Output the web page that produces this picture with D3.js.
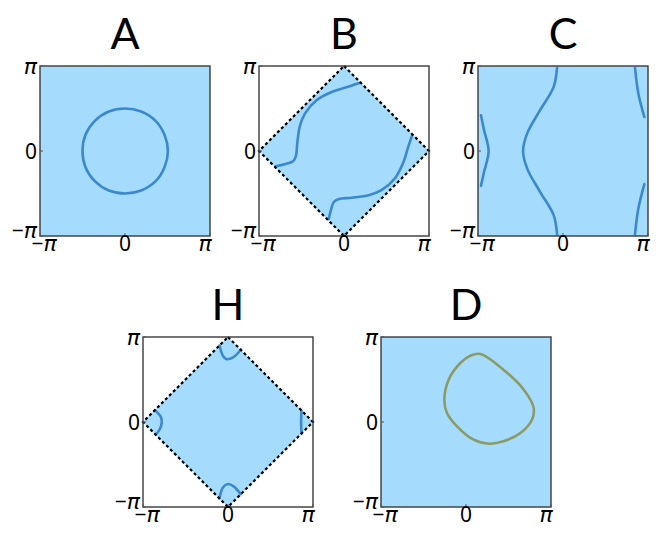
<!doctype HTML>
<html>
<head>
    <script src="https://d3js.org/d3.v7.min.js"></script>
    <style>
        body { margin: 0; background: #ffffff; }
    </style>
</head>
<body>
<script>

    // all coordinates are in units of pi, both axes run from -pi to pi
    var tickValues = [-1, 0, 1];
    var tickLabels = ["\u2212\u03c0", "0", "\u03c0"];

    var titles = ["A", "B", "C", "H", "D"];

    // first Brillouin zone outline used in B and H
    var diamond = [[0, 1], [1, 0], [0, -1], [-1, 0]];

    var curveA = [
        [0.505, 0], [0.465, 0.19], [0.36, 0.355], [0.19, 0.465], [0, 0.50],
        [-0.19, 0.465], [-0.355, 0.355], [-0.465, 0.19], [-0.50, 0], [-0.465, -0.19],
        [-0.355, -0.355], [-0.19, -0.465], [0, -0.50], [0.19, -0.465], [0.36, -0.355], [0.465, -0.19]
    ];

    var curvesB = [
        [[-0.80, -0.18], [-0.68, -0.15], [-0.60, -0.12], [-0.566, -0.06], [-0.55, 0.09],
         [-0.52, 0.29], [-0.46, 0.44], [-0.32, 0.60], [-0.13, 0.70], [0.03, 0.75], [0.18, 0.80]],
        [[0.80, 0.18], [0.75, 0.03], [0.70, -0.13], [0.60, -0.32], [0.44, -0.46],
         [0.29, -0.52], [0.09, -0.55], [-0.06, -0.566], [-0.12, -0.60], [-0.15, -0.68], [-0.18, -0.80]]
    ];

    var curvesC = [
        [[-0.965, 0.42], [-0.93, 0.25], [-0.875, 0], [-0.93, -0.25], [-0.965, -0.41]],
        [[-0.07, 0.98], [-0.11, 0.755], [-0.27, 0.48], [-0.42, 0.21], [-0.47, 0],
         [-0.42, -0.21], [-0.27, -0.48], [-0.11, -0.755], [-0.07, -0.98]],
        [[0.847, 0.98], [0.886, 0.68], [0.957, 0.40]],
        [[0.957, -0.39], [0.886, -0.68], [0.847, -0.98]]
    ];

    var curvesH = [
        [[-0.10, 0.90], [-0.06, 0.78], [-0.02, 0.74], [0.06, 0.76], [0.15, 0.85]],
        [[-0.10, -0.90], [-0.06, -0.77], [0.0, -0.73], [0.07, -0.76], [0.15, -0.85]],
        [[-0.86, 0.14], [-0.79, 0.06], [-0.78, -0.01], [-0.80, -0.08], [-0.85, -0.15]],
        [[0.865, 0.135], [0.86, 0], [0.865, -0.135]]
    ];

    var curveD = [
        [0.17, 0.80], [0.44, 0.616], [0.68, 0.38], [0.796, 0.165], [0.776, 0.027],
        [0.64, -0.13], [0.44, -0.227], [0.27, -0.255], [0.09, -0.208], [-0.106, -0.051],
        [-0.224, 0.106], [-0.255, 0.263], [-0.204, 0.498], [-0.067, 0.694], [0.05, 0.78]
    ];

    var fillColor = "#a5dcfd";
    var lineBlue = "#3b88d0";
    var lineOlive = "#8c9b66";

    // panel layout
    var size = 170;
    var panels = [
        {title: titles[0], left: 40, top: 66, zone: "square", curves: [curveA], closed: true, color: lineBlue},
        {title: titles[1], left: 259, top: 66, zone: "diamond", curves: curvesB, closed: false, color: lineBlue},
        {title: titles[2], left: 478, top: 66, zone: "square", curves: curvesC, closed: false, color: lineBlue},
        {title: titles[3], left: 143, top: 337, zone: "diamond", curves: curvesH, closed: false, color: lineBlue},
        {title: titles[4], left: 381, top: 337, zone: "square", curves: [curveD], closed: true, color: lineOlive}
    ];

    var svg = d3.select("body")
        .append("svg")
        .attr("width", 664)
        .attr("height", 540);

    var x = d3.scaleLinear().domain([-1, 1]).range([0, size]);
    var y = d3.scaleLinear().domain([-1, 1]).range([size, 0]);

    var zoneLine = d3.line()
        .x(function (d) {return x(d[0]);})
        .y(function (d) {return y(d[1]);})
        .curve(d3.curveLinearClosed);

    // write a tick label, with the pi glyph a bit larger like the original
    function fillLabel(sel, label) {
        label.split("").forEach(function (ch) {
            var t = sel.append("tspan").text(ch);
            if (ch === "\u03c0") {
                t.attr("font-family", "'DejaVu Sans', sans-serif")
                    .attr("font-style", "italic")
                    .attr("font-size", "22px");
            }
        });
    }

    panels.forEach(function (p) {
        var g = svg.append("g")
            .attr("transform", "translate(" + p.left + "," + p.top + ")");

        // title
        g.append("text")
            .attr("x", size / 2)
            .attr("y", -17)
            .attr("text-anchor", "middle")
            .attr("font-family", "Lato, 'Open Sans', sans-serif")
            .attr("font-size", "43px")
            .attr("fill", "black")
            .text(p.title);

        // filled zone
        if (p.zone === "square") {
            g.append("rect")
                .attr("x", x(-1))
                .attr("y", y(1))
                .attr("width", x(1) - x(-1))
                .attr("height", y(-1) - y(1))
                .attr("fill", fillColor);
        } else {
            g.append("path")
                .datum(diamond)
                .attr("d", zoneLine)
                .attr("fill", fillColor);
        }

        // contour lines
        var line = d3.line()
            .x(function (d) {return x(d[0]);})
            .y(function (d) {return y(d[1]);})
            .curve(p.closed ? d3.curveCatmullRomClosed : d3.curveCatmullRom);

        g.selectAll(".contour")
            .data(p.curves)
            .enter()
            .append("path")
            .attr("class", "contour")
            .attr("d", line)
            .attr("fill", "none")
            .attr("stroke", p.color)
            .attr("stroke-width", 2.6)
            .attr("stroke-linecap", "round");

        // dashed zone boundary
        if (p.zone === "diamond") {
            g.append("path")
                .datum(diamond)
                .attr("d", zoneLine)
                .attr("fill", "none")
                .attr("stroke", "black")
                .attr("stroke-width", 2.2)
                .attr("stroke-dasharray", "3,2.6");
        }

        // frame
        g.append("rect")
            .attr("x", 0)
            .attr("y", 0)
            .attr("width", size)
            .attr("height", size)
            .attr("fill", "none")
            .attr("stroke", "#3a3a3a")
            .attr("stroke-width", 1.4);

        // small inward ticks
        tickValues.forEach(function (t) {
            g.append("line")
                .attr("x1", x(t)).attr("x2", x(t))
                .attr("y1", size).attr("y2", size - 3)
                .attr("stroke", "#555").attr("stroke-width", 1);
            g.append("line")
                .attr("x1", 0).attr("x2", 3)
                .attr("y1", y(t)).attr("y2", y(t))
                .attr("stroke", "#555").attr("stroke-width", 1);
        });

        // x tick labels
        g.selectAll(".xlab")
            .data(tickValues)
            .enter()
            .append("text")
            .attr("class", "xlab")
            .attr("x", function (d) {return Math.min(Math.max(x(d), 4), size - 5);})
            .attr("y", size + 15)
            .attr("text-anchor", "middle")
            .attr("font-family", "'Noto Sans', sans-serif")
            .attr("font-size", "21px")
            .attr("fill", "black")
            .each(function (d, i) {fillLabel(d3.select(this), tickLabels[i]);});

        // y tick labels
        g.selectAll(".ylab")
            .data(tickValues)
            .enter()
            .append("text")
            .attr("class", "ylab")
            .attr("x", -3)
            .attr("y", function (d) {return Math.min(y(d) + 8, size + 2);})
            .attr("text-anchor", "end")
            .attr("font-family", "'Noto Sans', sans-serif")
            .attr("font-size", "21px")
            .attr("fill", "black")
            .each(function (d, i) {fillLabel(d3.select(this), tickLabels[i]);});
    });

</script>
</body>
</html>
